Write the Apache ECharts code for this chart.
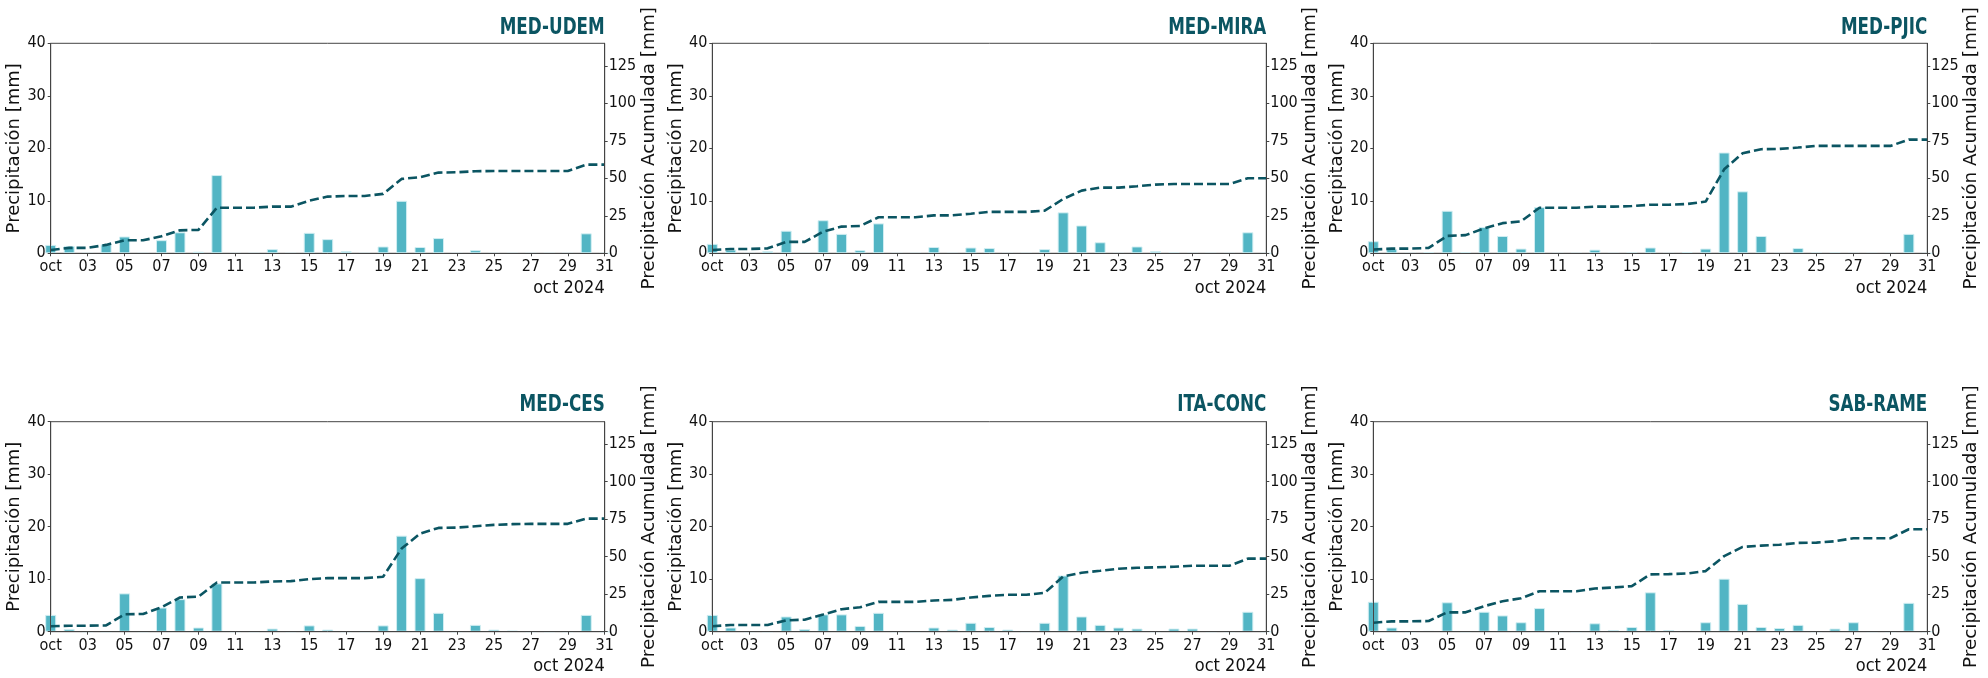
<!DOCTYPE html>
<html>
<head>
<meta charset="utf-8">
<title>Precipitación octubre 2024</title>
<script src="https://cdn.jsdelivr.net/npm/echarts@6/dist/echarts.min.js"></script>
<style>
  html, body { margin: 0; padding: 0; background: #fff; }
  #chart { width: 1988px; height: 678px; }
</style>
</head>
<body>
<div id="chart"></div>
<script>
// dias de octubre 2024
const days = [1, 2, 3, 4, 5, 6, 7, 8, 9, 10, 11, 12, 13, 14, 15, 16, 17, 18, 19, 20, 21, 22, 23, 24, 25, 26, 27, 28, 29, 30, 31];
const xTickLabels = ['oct', '03', '05', '07', '09', '11', '13', '15', '17', '19', '21', '23', '25', '27', '29', '31'];
const stations = ['MED-UDEM', 'MED-MIRA', 'MED-PJIC', 'MED-CES', 'ITA-CONC', 'SAB-RAME'];

// precipitacion diaria [mm]
const precipUDEM = [1.6, 1.4, 0, 1.7, 3.2, 0, 2.5, 4.0, 0.3, 14.9, 0, 0, 0.8, 0, 3.9, 2.7, 0.4, 0, 1.3, 10.0, 1.2, 2.9, 0, 0.6, 0, 0, 0, 0, 0, 3.8, 0];
const precipMIRA = [1.8, 0.7, 0, 0.4, 4.3, 0, 6.3, 3.7, 0.6, 5.7, 0, 0, 1.2, 0, 1.1, 1.0, 0, 0, 0.8, 7.8, 5.3, 2.1, 0, 1.3, 0.4, 0.1, 0, 0, 0, 4.0, 0];
const precipPJIC = [2.3, 0.8, 0, 0.2, 8.1, 0.2, 5.0, 3.3, 0.9, 8.8, 0, 0, 0.7, 0, 0.1, 1.1, 0, 0.2, 0.9, 19.2, 11.8, 3.3, 0, 1.0, 0.1, 0.1, 0, 0, 0, 3.7, 0];
const precipCES = [3.2, 0.5, 0, 0, 7.3, 0, 4.6, 6.2, 0.8, 9.2, 0, 0, 0.6, 0, 1.2, 0.4, 0, 0, 1.2, 18.3, 10.2, 3.6, 0, 1.3, 0.4, 0.2, 0, 0, 0, 3.2, 0];
const precipCONC = [3.2, 0.8, 0, 0, 2.9, 0.5, 3.3, 3.3, 1.1, 3.6, 0, 0, 0.8, 0.4, 1.7, 0.9, 0.4, 0, 1.7, 10.7, 2.9, 1.3, 0.8, 0.6, 0, 0.6, 0.6, 0, 0, 3.8, 0];
const precipRAME = [5.7, 0.8, 0, 0.1, 5.6, 0, 3.8, 3.1, 1.8, 4.5, 0, 0, 1.6, 0.3, 0.9, 7.5, 0.3, 0.1, 1.8, 10.1, 5.3, 0.9, 0.7, 1.3, 0, 0.6, 1.8, 0, 0, 5.5, 0];

// precipitacion acumulada [mm]
const acumUDEM = [2.2, 3.6, 3.6, 5.6, 8.7, 8.7, 11.3, 15.3, 15.6, 30.4, 30.4, 30.4, 31.1, 31.1, 35.1, 37.8, 38.2, 38.2, 39.6, 49.6, 50.7, 53.8, 54.0, 54.7, 54.9, 54.9, 54.9, 54.9, 54.9, 59.1, 59.1];
const acumMIRA = [2.2, 2.9, 2.9, 3.3, 7.6, 7.6, 14.4, 17.8, 18.2, 24.0, 24.0, 24.0, 25.3, 25.3, 26.4, 27.6, 27.6, 27.6, 28.4, 36.2, 41.8, 43.8, 43.8, 44.7, 45.8, 46.2, 46.2, 46.2, 46.2, 50.0, 50.0];
const acumPJIC = [2.5, 3.1, 3.1, 3.6, 11.6, 12.1, 16.6, 20.1, 21.3, 30.4, 30.4, 30.4, 31.1, 31.1, 31.5, 32.4, 32.4, 32.9, 34.5, 56.0, 66.7, 69.4, 69.6, 70.5, 71.6, 71.6, 71.6, 71.6, 71.6, 75.8, 75.8];
const acumCES = [3.6, 4.0, 4.0, 4.2, 11.6, 11.8, 16.3, 22.8, 23.4, 32.8, 32.8, 32.8, 33.5, 33.7, 35.0, 35.7, 35.7, 35.7, 36.6, 55.4, 65.4, 69.2, 69.4, 70.3, 71.2, 71.7, 71.9, 71.9, 71.9, 75.4, 75.4];
const acumCONC = [3.6, 4.5, 4.5, 4.5, 7.6, 8.0, 11.4, 15.0, 16.3, 19.9, 19.9, 19.9, 20.8, 21.2, 22.8, 23.9, 24.6, 24.6, 25.9, 36.8, 39.3, 40.6, 42.0, 42.6, 42.9, 43.3, 44.0, 44.0, 44.0, 48.7, 48.7];
const acumRAME = [6.0, 6.9, 6.9, 7.1, 12.9, 12.9, 17.0, 20.3, 22.3, 27.0, 27.0, 27.0, 28.8, 29.5, 30.4, 38.2, 38.4, 38.8, 40.4, 50.4, 56.5, 57.4, 58.0, 59.2, 59.4, 60.3, 62.3, 62.3, 62.3, 68.3, 68.3];

const precipAll = [precipUDEM, precipMIRA, precipPJIC, precipCES, precipCONC, precipRAME];
const acumAll = [acumUDEM, acumMIRA, acumPJIC, acumCES, acumCONC, acumRAME];

const colLeft = [50.7, 712.3, 1373.3];
const rowTop = [43.3, 421.7];
const plotW = 554;
const plotH = 210;
const titleY = [16.6, 394];

const tickFont = "'DejaVu Sans Condensed', 'DejaVu Sans', sans-serif";
const labelFont = "'DejaVu Sans', sans-serif";
const axisColor = '#444';
const textColor = '#111';
const barColor = '#52b5c4';
const lineColor = '#0b5562';

const chart = echarts.init(document.getElementById('chart'), null, { renderer: 'canvas' });

const grid = [], xAxis = [], yAxis = [], series = [], graphic = [];

stations.forEach((name, i) => {
  const left = colLeft[i % 3];
  const top = rowTop[Math.floor(i / 3)];

  grid.push({
    left: left, top: top, width: plotW, height: plotH,
    show: true, borderColor: axisColor, borderWidth: 1, backgroundColor: 'transparent'
  });

  // titulo de la estacion, fuente condensada (estrechada)
  graphic.push({
    type: 'text',
    x: left + plotW,
    y: titleY[Math.floor(i / 3)],
    scaleX: 0.81,
    style: {
      text: name,
      font: "bold 23px 'DejaVu Sans Condensed', 'DejaVu Sans', sans-serif",
      fill: lineColor,
      align: 'right',
      verticalAlign: 'top'
    }
  });

  xAxis.push({
    type: 'value', gridIndex: i, min: 1, max: 31, interval: 2, z: 5,
    axisLine: { show: true, onZero: false, lineStyle: { color: axisColor, width: 1 } },
    axisTick: { show: true, length: 3, lineStyle: { color: axisColor } },
    splitLine: { show: false },
    axisLabel: {
      fontFamily: tickFont, fontSize: 16, color: textColor, margin: 6,
      formatter: v => xTickLabels[(v - 1) / 2]
    },
    name: 'oct 2024', nameLocation: 'end', nameGap: 0,
    nameTextStyle: {
      fontFamily: tickFont, fontSize: 18, color: textColor,
      align: 'right', verticalAlign: 'top', padding: [26, 0, 0, 0]
    }
  });

  yAxis.push({
    type: 'value', gridIndex: i, position: 'left', min: 0, max: 40, interval: 10, z: 5,
    axisLine: { show: true, lineStyle: { color: axisColor } },
    axisTick: { show: true, length: 3, lineStyle: { color: axisColor } },
    splitLine: { show: false },
    axisLabel: { fontFamily: tickFont, fontSize: 16, color: textColor, margin: 5 },
    name: 'Precipitación [mm]', nameLocation: 'middle', nameGap: 25, nameRotate: 90,
    nameTextStyle: { fontFamily: labelFont, fontSize: 18, color: textColor }
  });

  yAxis.push({
    type: 'value', gridIndex: i, position: 'right', min: 0, max: 140, interval: 25, z: 5,
    axisLine: { show: true, lineStyle: { color: axisColor } },
    axisTick: { show: true, length: 3, lineStyle: { color: axisColor } },
    splitLine: { show: false },
    axisLabel: { fontFamily: tickFont, fontSize: 16, color: textColor, margin: 4, showMaxLabel: false },
    name: 'Precipitación Acumulada [mm]', nameLocation: 'middle', nameGap: 30, nameRotate: 90,
    nameTextStyle: { fontFamily: labelFont, fontSize: 18.4, color: textColor }
  });

  series.push({
    type: 'bar', xAxisIndex: i, yAxisIndex: 2 * i,
    data: days.map((d, k) => [d, precipAll[i][k]]),
    barWidth: 11,
    clip: true,
    itemStyle: { color: barColor, borderColor: 'rgba(210,238,242,0.95)', borderWidth: 1 },
    z: 2
  });

  series.push({
    type: 'line', xAxisIndex: i, yAxisIndex: 2 * i + 1,
    data: days.map((d, k) => [d, acumAll[i][k]]),
    symbol: 'none', showSymbol: false,
    clip: true,
    lineStyle: { color: lineColor, width: 2.6, type: [9, 4] },
    z: 3
  });
});

chart.setOption({
  animation: false,
  grid: grid,
  xAxis: xAxis,
  yAxis: yAxis,
  series: series,
  graphic: graphic
});
</script>
</body>
</html>
